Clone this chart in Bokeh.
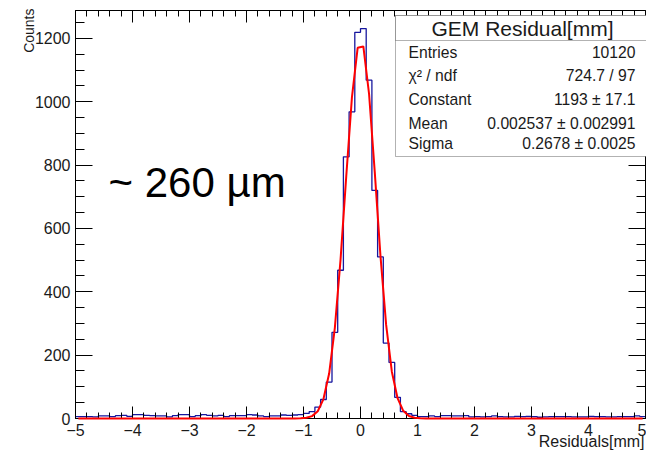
import numpy as np
from bokeh.plotting import figure
from bokeh.models import (Range1d, LinearAxis, SingleIntervalTicker, BoxAnnotation, Label,
                          CustomLabelingPolicy)
from bokeh.embed import file_html
from bokeh.resources import INLINE

# ---------------- data ----------------
x_lo, x_hi, n_bins = -5.0, 5.0, 100
y_top = 1288

# counts per 0.1 mm bin
counts_left_tail = [6, 6, 6, 5, 8, 8, 6, 9, 10, 7,
                    12, 12, 10, 9, 8, 8, 5, 9, 12, 12,
                    6, 9, 12, 10, 8, 10, 6, 9, 9, 9,
                    12, 11, 8, 6, 8, 8, 11, 10, 11, 12]          # -5.0 .. -1.0
counts_core = [16, 22, 36, 60, 115, 272, 468, 826, 968, 1219,
               1231, 1068, 720, 510, 238, 177, 67, 22, 15, 10]  # -1.0 .. 1.0
counts_right_tail = [6, 6, 8, 6, 9, 9, 8, 8, 9, 5,
                     6, 5, 6, 8, 6, 5, 5, 7, 6, 7,
                     6, 4, 5, 6, 6, 6, 6, 5, 5, 5,
                     7, 6, 6, 5, 5, 6, 6, 6, 8, 6]              # 1.0 .. 5.0
counts = counts_left_tail + counts_core + counts_right_tail

# fit parameters shown in the stats box
fit_constant, fit_mean, fit_sigma = 1193.0, 0.002537, 0.2678

stats_title = "GEM Residual[mm]"
stats_names = ["Entries", "χ² / ndf", "Constant", "Mean", "Sigma"]
stats_values = ["10120", "724.7 / 97", "1193 ± 17.1", "0.002537 ± 0.002991", "0.2678 ± 0.0025"]

x_label = "Residuals[mm]"
y_label = "Counts"
note = "~ 260 µm"

# ---------------- layout (pixels of the 646x452 canvas) ----------------
W, H = 646, 452
fx0, fx1 = 75, 645      # pixel columns of x = -5 and x = 5
fy0, fy1 = 418, 10      # pixel rows of y = 0 and y = y_top
sx = (fx1 - fx0) / (x_hi - x_lo)
sy = (fy0 - fy1) / y_top
BASE_SHIFT = 0.35       # empirical: rendered baseline sits this many em below the anchor

def X(px):
    return x_lo + (px - fx0) / sx

def Y(py):
    return (fy0 - py) / sy

# ---------------- derived ----------------
edges = np.linspace(x_lo, x_hi, n_bins + 1)
centers = 0.5 * (edges[:-1] + edges[1:])
step_y = counts + [counts[-1]]
fit_y = fit_constant * np.exp(-0.5 * ((centers - fit_mean) / fit_sigma) ** 2)

FONT = "Liberation Sans"
INK = "#1a1a1a"

p = figure(width=W, height=H, x_range=Range1d(X(0), X(W)), y_range=Range1d(Y(H), Y(0)),
           output_backend="svg", toolbar_location=None,
           x_axis_location=None, y_axis_location=None, min_border=0,
           background_fill_color="white", border_fill_color="white",
           outline_line_color=None)
p.grid.visible = False

no_labels = CustomLabelingPolicy(code="for (const i of indices) indices.unset(i)")

def make_axis(interval, minor, loc, bounds, major_len, minor_len, labels=True):
    ax = LinearAxis(ticker=SingleIntervalTicker(interval=interval, num_minor_ticks=minor),
                    fixed_location=loc, bounds=bounds)
    ax.major_tick_in = major_len
    ax.major_tick_out = 0
    ax.minor_tick_in = minor_len
    ax.minor_tick_out = 0
    ax.axis_line_color = "black"
    ax.major_tick_line_color = "black"
    ax.minor_tick_line_color = "black"
    if labels:
        ax.major_label_text_font = FONT
        ax.major_label_text_font_size = "16px"
        ax.major_label_text_color = INK
        ax.major_label_standoff = 5
    else:
        ax.major_label_policy = no_labels
        ax.major_label_text_font_size = "0px"
        ax.major_label_standoff = 0
    return ax

p.add_layout(make_axis(1, 5, 0, (x_lo, x_hi), 12, 6), "below")
p.add_layout(make_axis(200, 4, x_lo, (0, y_top), 17, 9), "left")
p.add_layout(make_axis(1, 5, y_top, (x_lo, x_hi), 12, 6, labels=False), "above")
p.add_layout(make_axis(200, 4, x_hi, (0, y_top), 17, 9, labels=False), "right")

# histogram outline
p.step(x=edges, y=step_y, mode="after", line_color="#16169e", line_width=1.3)
# gaussian fit (drawn over the axis line, as ROOT does)
p.line(x=centers, y=fit_y, line_color="#ff0000", line_width=2, level="annotation")

def text(px, py_base, s, size, align="left", color=INK, angle=0.0):
    """Place a text so that its alphabetic baseline lands on pixel row py_base."""
    shift = BASE_SHIFT * size
    if angle:
        # rotated 90 deg: baseline is a pixel column
        lab = Label(x=X(px - shift), y=Y(py_base), angle=angle)
    else:
        lab = Label(x=X(px), y=Y(py_base - shift))
    lab.text = s
    lab.text_font = FONT
    lab.text_font_size = f"{size}px"
    lab.text_color = color
    lab.text_align = align
    lab.text_baseline = "alphabetic"
    p.add_layout(lab)

# stats box (runs off the right edge, as in the reference)
box_left, box_right = X(395), X(W + 20)
p.add_layout(BoxAnnotation(left=box_left, right=box_right, bottom=Y(156), top=Y(15),
                           fill_color="white", fill_alpha=1, line_color="black", line_width=1,
                           level="annotation"))
p.add_layout(BoxAnnotation(left=box_left, right=box_right, bottom=Y(40), top=Y(15),
                           fill_color="white", fill_alpha=1, line_color="black", line_width=1,
                           level="annotation"))
text(522, 35, stats_title, 21, align="center")
row_px = [57.3, 80, 104, 128.3, 148.3]
for name, val, py in zip(stats_names, stats_values, row_px):
    text(408, py, name, 15.7)
    text(635, py, val, 15.7, align="right")

# big note
text(108, 197, note, 42, color="black")

# axis titles (ROOT style: at the axis ends)
text(644, 447, x_label, 16, align="right")
text(33, 8, y_label, 14, align="right", angle=np.pi / 2)

open("out.html", "w").write(file_html(p, INLINE))
